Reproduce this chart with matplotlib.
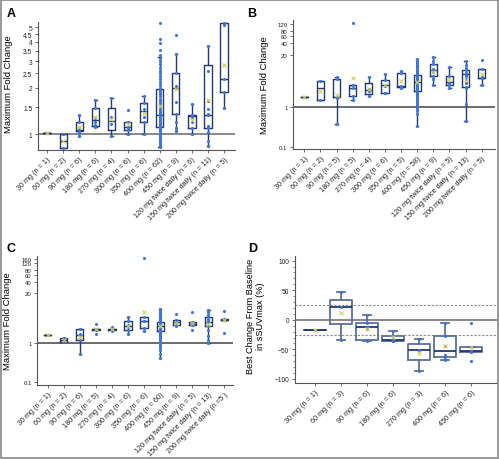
import matplotlib.pyplot as plt
from matplotlib.patches import Rectangle

plt.rcParams['font.family'] = ['Liberation Sans', 'DejaVu Sans']

# ---- panel A: maximum fold change (log) ----
labels_a = ['30 mg (n = 1)', '60 mg (n = 2)', '90 mg (n = 6)', '180 mg (n = 6)',
            '270 mg (n = 4)', '300 mg (n = 6)', '350 mg (n = 6)', '400 mg (n = 62)',
            '450 mg (n = 9)', '120 mg twice daily (n = 6)',
            '150 mg twice daily (n = 11)', '200 mg twice daily (n = 5)']
pts_a = [
    [1.02],
    [1.0, 0.81],
    [0.97, 1.01, 1.05, 1.09, 1.2, 1.33],
    [1.12, 1.15, 1.2, 1.27, 1.48, 1.68],
    [0.97, 1.17, 1.3, 1.72],
    [1.0, 1.07, 1.1, 1.12, 1.19, 1.44],
    [1.0, 1.2, 1.3, 1.45, 1.6, 1.76],
    [5.3, 4.2, 3.95, 3.55, 3.3, 3.15, 3.0, 2.85, 2.7, 2.6, 2.5, 2.4, 2.3, 2.2, 2.1, 2.0,
     1.93, 1.88, 1.82, 1.76, 1.7, 1.65, 1.6, 1.55, 1.5, 1.46, 1.43, 1.4, 1.38, 1.36, 1.34,
     1.32, 1.3, 1.28, 1.26, 1.24, 1.22, 1.2, 1.19, 1.18, 1.17, 1.16, 1.15, 1.14, 1.13, 1.12,
     1.1, 1.08, 1.06, 1.04, 1.02, 1.0, 0.99, 0.97, 0.95, 0.93, 0.91, 0.89, 0.87, 0.85, 0.83, 0.82],
    [1.05, 1.1, 1.2, 1.35, 1.62, 2.05, 2.5, 3.35, 4.45],
    [1.0, 1.1, 1.2, 1.3, 1.33, 1.56],
    [0.835, 0.9, 1.03, 1.1, 1.13, 1.34, 1.35, 1.45, 1.65, 2.58, 3.75],
    [1.48, 1.87, 2.29, 5.2, 5.33],
]
q1_a = [1.02, 0.81, 1.04, 1.13, 1.057, 1.07, 1.19, 1.11, 1.345, 1.10, 1.095, 1.87]
med_a = [1.02, 0.905, 1.067, 1.23, 1.21, 1.11, 1.41, 1.325, 2.0, 1.32, 1.34, 2.29]
q3_a = [1.02, 1.0, 1.19, 1.48, 1.48, 1.19, 1.60, 1.97, 2.51, 1.33, 2.84, 5.33]
lo_a = [1.02, 0.81, 0.97, 1.12, 0.97, 1.0, 1.0, 0.82, 1.04, 1.0, 0.835, 1.48]
hi_a = [1.02, 1.0, 1.33, 1.68, 1.72, 1.19, 1.76, 3.2, 3.35, 1.56, 3.75, 5.33]
mean_a = [1.02, 0.905, 1.11, 1.29, 1.26, 1.157, 1.365, 1.52, 1.97, 1.24, 1.66, 2.81]
yticks_a = [1, 1.5, 2, 2.5, 3, 3.5, 4, 4.5, 5]

# ---- panel B ----
labels_b = ['30 mg (n = 1)', '60 mg (n = 2)', '90 mg (n = 5)', '180 mg (n = 5)',
            '270 mg (n = 4)', '300 mg (n = 6)', '350 mg (n = 5)', '400 mg (n = 58)',
            '450 mg (n = 9)', '120 mg twice daily (n = 5)',
            '150 mg twice daily (n = 13)', '200 mg twice daily (n = 5)']
pts_b = [
    [1.745],
    [1.47, 4.38],
    [0.383, 1.7, 1.8, 5.0, 5.5],
    [1.47, 1.92, 3.0, 3.55, 123],
    [1.88, 2.5, 2.8, 5.5],
    [2.2, 2.3, 3.4, 3.5, 4.7, 6.55],
    [2.93, 3.1, 3.3, 7.1, 7.94],
    [15.5, 14.5, 13.5, 12.5, 11.5, 10.5, 9.8, 9.0, 8.4, 7.9, 7.4, 7.0, 6.8, 6.6,
     6.3, 6.1, 5.9, 5.7, 5.5, 5.3, 5.1, 4.9, 4.8, 4.7, 4.6, 4.5, 4.4, 4.3,
     4.15, 4.0, 3.9, 3.8, 3.7, 3.6, 3.5, 3.4, 3.3, 3.2, 3.1, 3.0, 2.9, 2.75, 2.6,
     2.4, 2.25, 2.1, 2.0, 1.85, 1.7, 1.55, 1.4, 1.25, 1.1, 1.0, 0.89, 0.79, 0.68, 0.335],
    [3.62, 5.0, 6.0, 7.5, 8.5, 9.0, 12.0, 14.0, 18.1],
    [3.04, 3.5, 4.1, 6.0, 10.0],
    [0.44, 1.17, 3.0, 3.1, 4.0, 5.0, 6.0, 6.5, 7.0, 8.4, 9.5, 11.0, 14.4],
    [3.48, 5.3, 5.5, 9.1, 14.7],
]
q1_b = [1.745, 1.47, 1.745, 1.92, 2.07, 2.2, 3.1, 2.51, 6.07, 3.48, 3.1, 5.3]
med_b = [1.745, 2.98, 1.745, 2.98, 2.66, 3.48, 3.28, 4.22, 8.58, 4.14, 6.55, 5.4]
q3_b = [1.745, 4.38, 5.0, 3.55, 4.06, 4.73, 7.1, 6.43, 12.1, 6.07, 8.4, 9.1]
lo_b = [1.745, 1.47, 0.383, 1.47, 1.88, 2.2, 2.93, 0.335, 3.62, 3.04, 0.44, 3.48]
hi_b = [1.745, 4.38, 5.5, 3.55, 5.5, 6.55, 7.94, 15.5, 18.1, 10.0, 14.4, 9.1]
mean_b = [1.745, 2.51, 1.96, 5.2, 2.87, 3.48, 4.38, 4.14, 7.5, 4.92, 4.83, 6.55]
yticks_b = [0.1, 1, 20, 40, 60, 80, 120]

# ---- panel C ----
labels_c = ['30 mg (n = 1)', '60 mg (n = 2)', '90 mg (n = 6)', '180 mg (n = 5)',
            '270 mg (n = 4)', '300 mg (n = 6)', '350 mg (n = 6)', '400 mg (n = 60)',
            '450 mg (n = 9)', '120 mg twice daily (n = 5)',
            '150 mg twice daily (n = 13)', '200 mg twice daily (n =5 )']
pts_c = [
    [1.65],
    [1.105, 1.38],
    [0.527, 1.25, 1.6, 1.75, 2.3, 2.41],
    [1.75, 2.25, 2.3, 2.4, 3.19],
    [2.14, 2.25, 2.4, 2.72],
    [1.75, 2.2, 2.7, 3.0, 3.83, 4.77],
    [2.06, 2.51, 3.7, 3.9, 4.96, 168],
    [7.87, 7.2, 6.6, 6.1, 5.6, 5.2, 4.9, 4.6, 4.4, 4.2, 4.0, 3.85, 3.75, 3.65, 3.58,
     3.48, 3.42, 3.36, 3.3, 3.25, 3.2, 3.15, 3.1, 3.06, 3.02, 2.99, 2.96, 2.94, 2.92, 2.9,
     2.86, 2.8, 2.74, 2.68, 2.62, 2.56, 2.5, 2.44, 2.38, 2.32, 2.26, 2.2, 2.15, 2.11, 2.08,
     2.0, 1.9, 1.8, 1.68, 1.55, 1.42, 1.3, 1.2, 1.1, 1.0, 0.9, 0.8, 0.66, 0.53, 0.406],
    [2.83, 3.0, 3.2, 3.4, 3.53, 3.6, 3.8, 3.98, 5.82],
    [2.23, 3.0, 3.26, 3.5, 6.43],
    [1.0, 1.2, 1.5, 2.2, 2.8, 3.0, 3.53, 3.8, 4.3, 5.0, 5.5, 6.5, 7.4],
    [1.82, 4.0, 4.14, 4.3, 7.1],
]
q1_c = [1.65, 1.105, 1.22, 2.25, 2.25, 2.23, 2.51, 2.06, 3.0, 3.0, 2.89, 4.0]
med_c = [1.65, 1.25, 1.68, 2.32, 2.32, 2.89, 3.83, 2.89, 3.53, 3.26, 3.53, 4.14]
q3_c = [1.65, 1.38, 2.41, 2.4, 2.4, 3.83, 4.96, 3.53, 3.98, 3.5, 4.96, 4.3]
lo_c = [1.65, 1.105, 0.527, 2.25, 2.25, 1.75, 2.06, 0.406, 3.0, 3.0, 1.0, 4.0]
hi_c = [1.65, 1.38, 2.41, 2.4, 2.4, 4.77, 4.96, 7.87, 3.98, 3.5, 7.4, 4.3]
mean_c = [1.65, 1.235, 1.49, 2.32, 2.32, 2.89, 6.43, 2.78, 3.46, 3.3, 3.13, 4.0]
yticks_c = [0.1, 1, 20, 40, 60, 80, 120, 160]

# ---- panel D: best change in sSUVmax (%) ----
labels_d = ['30 mg (n = 1)', '60 mg (n = 3)', '90 mg (n = 6)', '180 mg (n = 6)',
            '270 mg (n = 3)', '400 mg (n = 6)', '450 mg (n = 6)']
pts_d = [
    [-16.9],
    [-34.8, 21.3, 47.2],
    [-36.5, -33.7, -15, -12, -5, 8.4],
    [-36.5, -36, -35, -34, -27, -19.1],
    [-86, -51.1, -32],
    [-67.4, -63.5, -59, -45, -27, -5.6],
    [-70, -54.5, -54, -52, -46.6, -5.6],
]
q1_d = [-16.9, -7.3, -33.7, -36, -68.5, -63.5, -54]
med_d = [-16.9, 21.3, -11.8, -34.8, -51.1, -52.8, -52.8]
q3_d = [-16.9, 34.3, -5.1, -27, -41, -27, -46.6]
lo_d = [-16.9, -34.8, -36.5, -36.5, -86, -67.4, -54]
hi_d = [-16.9, 47.2, 8.4, -19.1, -32, -5.6, -46.6]
mean_d = [-16.9, 11.2, -15.2, -29.8, -56.2, -44.4, -45.5]
yticks_d = [-100, -50, 0, 50, 100]

POINT = '#3f74d8'
NAVY = '#22396e'
MEANC = '#d8cf5a'


def draw(ax, labels, pts, q1, med, q3, lo, hi, mean, width, lw, boxcol):
    pos = list(range(1, len(labels) + 1))
    stats = [dict(q1=a, med=b, q3=c, whislo=d, whishi=e)
             for a, b, c, d, e in zip(q1, med, q3, lo, hi)]
    ax.bxp(stats, positions=pos, widths=width, capwidths=width * 0.35,
           showfliers=False,
           boxprops=dict(color=boxcol, lw=lw),
           whiskerprops=dict(color=boxcol, lw=lw),
           capprops=dict(color=boxcol, lw=lw),
           medianprops=dict(color=NAVY, lw=lw),
           zorder=2)
    for p, v in zip(pos, pts):
        ax.scatter([p] * len(v), v, s=5, color=POINT, lw=0, zorder=3)
    ax.plot(pos, mean, 'x', color=MEANC, ms=2.4, mew=0.8, zorder=4)
    ax.set_xticks(pos, labels, rotation=45, ha='right', rotation_mode='anchor',
                  fontsize=5.2, color='#222222')
    for s in ['top', 'right']:
        ax.spines[s].set_visible(False)
    for s in ['left', 'bottom']:
        ax.spines[s].set_color('#555555')
        ax.spines[s].set_linewidth(0.8)
    ax.tick_params(length=2.5, width=0.6, color='#555555', labelcolor='#222222', pad=1.5)
    ax.tick_params(axis='y', labelsize=4.8)


fig = plt.figure(figsize=(4.99, 4.60), dpi=100)

axA = fig.add_axes([0.0762, 0.6724, 0.3948, 0.2776])
axA.set_yscale('log')
axA.axhline(1, color='#808080', lw=1.3, zorder=1)
draw(axA, labels_a, pts_a, q1_a, med_a, q3_a, lo_a, hi_a, mean_a, 0.45, 1.0, NAVY)
axA.set_ylim(0.79, 5.4)
axA.set_xlim(0.44, 12.68)
axA.set_yticks(yticks_a, [f'{t:g}' for t in yticks_a])
axA.minorticks_off()
axA.set_ylabel('Maximum Fold Change', fontsize=6.8)
axA.yaxis.set_label_coords(-0.125, 0.52)

axB = fig.add_axes([0.5872, 0.6746, 0.4048, 0.2798])
axB.set_yscale('log')
axB.axhline(1, color='#606060', lw=1.3, zorder=1)
draw(axB, labels_b, pts_b, q1_b, med_b, q3_b, lo_b, hi_b, mean_b, 0.45, 1.0, NAVY)
axB.set_ylim(0.091, 150)
axB.set_xlim(0.30, 12.83)
axB.set_yticks(yticks_b, [f'{t:g}' for t in yticks_b])
axB.minorticks_off()
axB.tick_params(axis='y', labelsize=4.3)
axB.set_ylabel('Maximum Fold Change', fontsize=6.8)
axB.yaxis.set_label_coords(-0.12, 0.5)

axC = fig.add_axes([0.0748, 0.1609, 0.3922, 0.2811])
axC.set_yscale('log')
axC.axhline(1, color='#606060', lw=1.3, zorder=1)
draw(axC, labels_c, pts_c, q1_c, med_c, q3_c, lo_c, hi_c, mean_c, 0.45, 1.0, NAVY)
axC.set_ylim(0.082, 190)
axC.set_xlim(0.35, 12.54)
axC.set_yticks(yticks_c, [f'{t:g}' for t in yticks_c])
axC.minorticks_off()
axC.tick_params(axis='y', labelsize=4.3)
axC.set_ylabel('Maximum Fold Change', fontsize=6.8)
axC.yaxis.set_label_coords(-0.13, 0.5)

axD = fig.add_axes([0.5912, 0.1652, 0.4048, 0.2767])
axD.axhline(0, color='#808080', lw=1.3, zorder=1)
for v in (25, -25):
    axD.axhline(v, color='#8a8a8a', lw=0.8, ls=(0, (2, 1.5)), zorder=1)
draw(axD, labels_d, pts_d, q1_d, med_d, q3_d, lo_d, hi_d, mean_d, 0.83, 1.3, '#5d6f99')
axD.set_ylim(-106.8, 108.3)
axD.set_xlim(0.23, 7.99)
axD.set_yticks(yticks_d)
axD.set_yticks(range(-100, 101, 10), minor=True)
axD.tick_params(which='minor', length=1.5, width=0.5, color='#555555')
axD.set_ylabel('Best Change From Baseline\nin sSUVmax (%)', fontsize=6.6, linespacing=1.05)
axD.yaxis.set_label_coords(-0.15, 0.53)

for letter, x, y in [('A', 0.014, 0.963), ('B', 0.495, 0.963),
                     ('C', 0.014, 0.452), ('D', 0.497, 0.452)]:
    fig.text(x, y, letter, fontsize=9, fontweight='bold', ha='left', va='baseline')

fig.add_artist(Rectangle((0.002, 0.002), 0.996, 0.996, transform=fig.transFigure,
                         fill=False, ec='#888888', lw=1.2))

fig.savefig('out.png', dpi=100)
